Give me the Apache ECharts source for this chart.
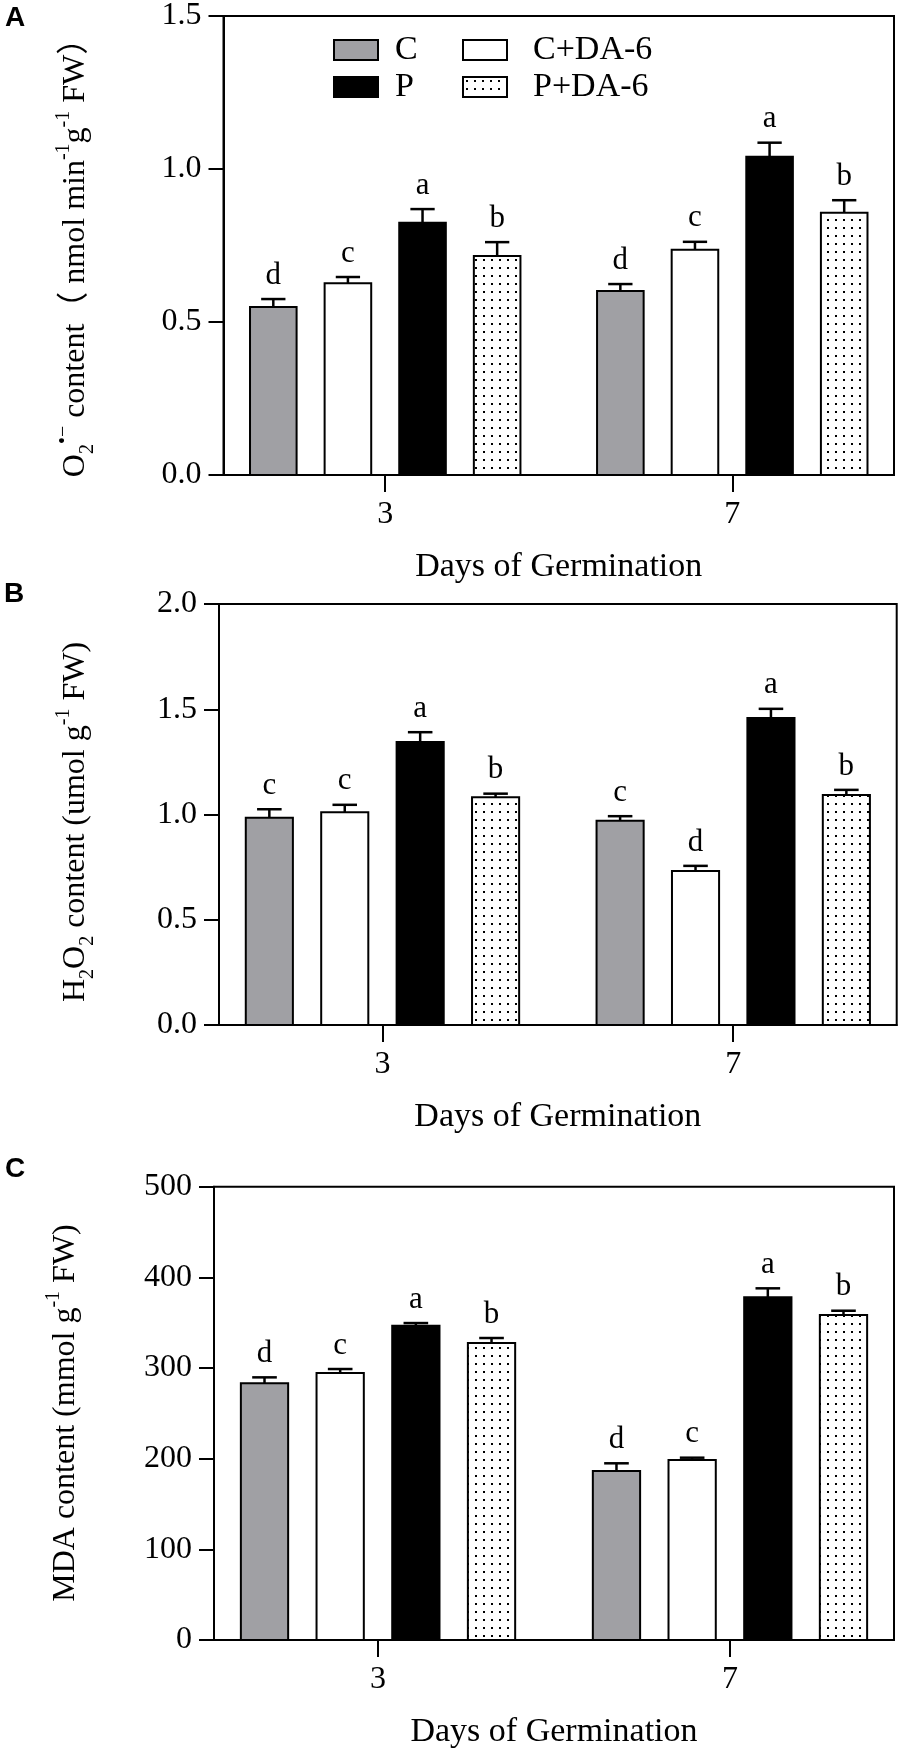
<!DOCTYPE html>
<html>
<head>
<meta charset="utf-8">
<script src="https://cdn.jsdelivr.net/npm/echarts@6.0.0/dist/echarts.min.js"></script>
<style>
  html, body { margin: 0; padding: 0; background: #fff; }
  #chart { width: 900px; height: 1754px; }
</style>
</head>
<body>
<div id="chart"></div>
<script>
// ---- data (rows = treatments, columns = days) ----
const days = [3, 7];
const treatments = ['C', 'C+DA-6', 'P', 'P+DA-6'];

const o2Means = [[0.549, 0.601], [0.627, 0.736], [0.824, 1.040], [0.716, 0.857]];
const o2Errs = [[0.026, 0.023], [0.020, 0.026], [0.045, 0.046], [0.045, 0.041]];
const o2Letters = [['d', 'd'], ['c', 'c'], ['a', 'a'], ['b', 'b']];
const o2Ticks = [0, 1.5, 0.5]; // min, max, step

const h2o2Means = [[0.984, 0.970], [1.011, 0.732], [1.344, 1.458], [1.082, 1.093]];
const h2o2Errs = [[0.041, 0.022], [0.035, 0.024], [0.047, 0.044], [0.017, 0.024]];
const h2o2Letters = [['c', 'c'], ['c', 'd'], ['a', 'a'], ['b', 'b']];
const h2o2Ticks = [0, 2.0, 0.5];

const mdaMeans = [[283.1, 186.4], [294.5, 198.5], [346.7, 378.0], [327.6, 358.4]];
const mdaErrs = [[6.6, 8.5], [4.4, 2.6], [2.9, 9.9], [5.5, 4.8]];
const mdaLetters = [['d', 'd'], ['c', 'c'], ['a', 'a'], ['b', 'b']];
const mdaTicks = [0, 500, 100];

// ---- styling ----
const SERIF = "'Liberation Serif', 'Times New Roman', 'Noto Sans CJK SC', serif";
const GRAY = '#a0a0a4';

// dotted fill for P+DA-6
const dotCanvas = document.createElement('canvas');
dotCanvas.width = 8; dotCanvas.height = 8;
const dctx = dotCanvas.getContext('2d');
dctx.fillStyle = '#fff'; dctx.fillRect(0, 0, 8, 8);
dctx.fillStyle = '#000'; dctx.fillRect(3, 3, 2, 2);
const DOTS = { image: dotCanvas, repeat: 'repeat' };

const FILLS = [GRAY, '#fff', '#000', DOTS];
const OFFS = [-1.29, -0.43, 0.43, 1.29]; // bar offset from day tick, in x units
const BAR_W = 0.56;
const X_MIN = 1.136, X_MAX = 8.864;

function makeRender(k, letters) {
  return function (params, api) {
    const x = api.value(0) + OFFS[k];
    const v = api.value(1), e = api.value(2);
    const p0 = api.coord([x, 0]);
    const p1 = api.coord([x, v]);
    const p2 = api.coord([x, v + e]);
    const w = api.size([BAR_W, 0])[0];
    const cap = w * 0.25;
    return {
      type: 'group',
      children: [
        { type: 'line', shape: { x1: p0[0], y1: p1[1], x2: p0[0], y2: p2[1] },
          style: { stroke: '#000', lineWidth: 2.5 } },
        { type: 'line', shape: { x1: p0[0] - cap, y1: p2[1], x2: p0[0] + cap, y2: p2[1] },
          style: { stroke: '#000', lineWidth: 2.5 } },
        { type: 'rect', shape: { x: p0[0] - w / 2 + 1, y: p1[1], width: w - 2, height: p0[1] - p1[1] },
          style: { fill: FILLS[k], stroke: '#000', lineWidth: 2 } },
        { type: 'text', x: p0[0], y: p2[1] - 8,
          style: { text: letters[params.dataIndex], fontFamily: SERIF, fontSize: 31, fill: '#000',
                   align: 'center', verticalAlign: 'bottom' } }
      ]
    };
  };
}

const panels = [
  { grid: { left: 223.5, right: 6, top: 16, height: 459 }, ticks: o2Ticks, digits: 1,
    means: o2Means, errs: o2Errs, letters: o2Letters },
  { grid: { left: 219, right: 3.3, top: 604, height: 421 }, ticks: h2o2Ticks, digits: 1,
    means: h2o2Means, errs: h2o2Errs, letters: h2o2Letters },
  { grid: { left: 214, right: 6, top: 1186.7, height: 453.3 }, ticks: mdaTicks, digits: 0,
    means: mdaMeans, errs: mdaErrs, letters: mdaLetters }
];

const grids = [], xAxes = [], yAxes = [], series = [];
panels.forEach(function (p, pi) {
  grids.push(Object.assign({ show: true, borderColor: '#000', borderWidth: 2,
    backgroundColor: 'transparent', containLabel: false, outerBoundsMode: 'none' }, p.grid));
  xAxes.push({
    type: 'value', gridIndex: pi, min: X_MIN, max: X_MAX,
    name: 'Days of Germination', nameLocation: 'middle', nameGap: 75,
    nameTextStyle: { fontFamily: SERIF, fontSize: 34, color: '#000' },
    axisLine: { show: true, lineStyle: { color: '#000', width: 2 } },
    axisTick: { show: true, customValues: days, length: 17, lineStyle: { color: '#000', width: 2 } },
    axisLabel: { show: true, customValues: days, margin: 24, fontFamily: SERIF, fontSize: 32, color: '#000' },
    splitLine: { show: false }
  });
  yAxes.push({
    type: 'value', gridIndex: pi, min: p.ticks[0], max: p.ticks[1], interval: p.ticks[2],
    axisLine: { show: true, lineStyle: { color: '#000', width: 2 } },
    axisTick: { show: true, length: 15, lineStyle: { color: '#000', width: 2 } },
    axisLabel: { margin: 22, fontFamily: SERIF, fontSize: 32, color: '#000',
                 formatter: function (v) { return v.toFixed(p.digits); } },
    splitLine: { show: false }
  });
  treatments.forEach(function (name, k) {
    series.push({
      type: 'custom', name: name, xAxisIndex: pi, yAxisIndex: pi, z: 3,
      itemStyle: { color: FILLS[k] },
      data: days.map(function (d, i) { return [d, p.means[k][i], p.errs[k][i]]; }),
      renderItem: makeRender(k, p.letters[k])
    });
  });
});

function legendItem(name, k) {
  return { name: name, itemStyle: { color: FILLS[k], borderColor: '#000', borderWidth: 2 } };
}
const legendText = function (pad) {
  return { fontFamily: SERIF, fontSize: 34, lineHeight: 37, color: '#000', padding: [0, 0, 0, pad] };
};

const rich = {
  m: { fontFamily: SERIF, fontSize: 32, lineHeight: 44, fill: '#000', color: '#000' },
  sub: { fontFamily: SERIF, fontSize: 20, lineHeight: 20, verticalAlign: 'bottom', fill: '#000', color: '#000' },
  sup: { fontFamily: SERIF, fontSize: 20, lineHeight: 20, verticalAlign: 'top', fill: '#000', color: '#000' }
};
function yTitle(x, y, text) {
  return { type: 'text', x: x, y: y, rotation: Math.PI / 2,
    style: { text: text, rich: rich, fontFamily: SERIF, fontSize: 32, fill: '#000',
             align: 'center', verticalAlign: 'middle' } };
}
function panelLetter(x, y, t) {
  return { type: 'text', x: x, y: y,
    style: { text: t, fontFamily: "'Liberation Sans', Arial, sans-serif", fontWeight: 'bold',
             fontSize: 28, fill: '#000', align: 'center', verticalAlign: 'middle' } };
}

const chart = echarts.init(document.getElementById('chart'), null, { renderer: 'canvas' });
chart.setOption({
  animation: false,
  backgroundColor: '#fff',
  grid: grids,
  xAxis: xAxes,
  yAxis: yAxes,
  legend: [
    { orient: 'vertical', left: 328, top: 26.5, itemWidth: 44, itemHeight: 20, itemGap: 0,
      icon: 'rect', selectedMode: false, textStyle: legendText(12),
      data: [legendItem('C', 0), legendItem('P', 2)] },
    { orient: 'vertical', left: 457, top: 26.5, itemWidth: 44, itemHeight: 20, itemGap: 0,
      icon: 'rect', selectedMode: false, textStyle: legendText(21),
      data: [legendItem('C+DA-6', 1), legendItem('P+DA-6', 3)] }
  ],
  graphic: [
    panelLetter(15, 18, 'A'),
    panelLetter(14, 594, 'B'),
    panelLetter(15, 1169, 'C'),
    yTitle(76, 250, '{m|O}{sub|2}{sup|•−}{m| content（ nmol min}{sup|-1}{m|g}{sup|-1}{m| FW）}'),
    yTitle(76, 822, '{m|H}{sub|2}{m|O}{sub|2}{m| content (umol g}{sup|-1}{m| FW)}'),
    yTitle(66, 1413, '{m|MDA content (mmol g}{sup|-1}{m| FW)}')
  ],
  series: series
});
</script>
</body>
</html>
